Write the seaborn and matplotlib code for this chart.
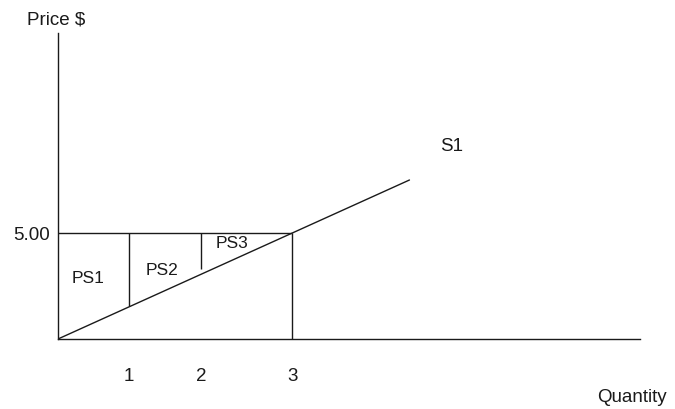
import matplotlib
matplotlib.use("Agg")
import matplotlib.pyplot as plt
import seaborn as sns
import pandas as pd

# Supply curve S1 (quantity, price)
supply_q = [0.0, 3.3, 4.95]
supply_p = [0.0, 5.0, 7.5]

# Quantity marks and their labels
quantity_pos = [1.0, 2.02, 3.3]
quantity_labels = ["1", "2", "3"]
# Where each vertical divider stops at the bottom (price)
divider_low = [1.55, 3.3, 0.0]

price_level = 5.00
price_label = "5.00"

# Producer surplus region labels
ps_labels = ["PS1", "PS2", "PS3"]
ps_q = [0.43, 1.46, 2.45]
ps_p = [2.87, 3.25, 4.5]

sns.set_theme(style="white")
plt.rcParams["font.family"] = ["Liberation Sans", "DejaVu Sans"]

fig = plt.figure(figsize=(6.75, 4.09), dpi=100)
ax = fig.add_axes([58 / 675, (409 - 339) / 409, (640 - 58) / 675, (339 - 33) / 409])
ax.set_xlim(0, (640 - 58) / 71)
ax.set_ylim(0, (339 - 33) / 21.2)

lw = 1.0
col = "#1a1a1a"
fs = 13.5
fs_ps = 12.5

df = pd.DataFrame({"q": supply_q, "p": supply_p})
sns.lineplot(data=df, x="q", y="p", ax=ax, color=col, linewidth=lw, legend=False)

# Price level line up to the third unit
ax.hlines(price_level, 0, quantity_pos[2], color=col, linewidth=lw)
# Dividers between the units
ax.vlines(quantity_pos, divider_low, [price_level] * 3, color=col, linewidth=lw)

for t, x, y in zip(ps_labels, ps_q, ps_p):
    ax.text(x, y, t, ha="center", va="center", fontsize=fs_ps, color=col)

ax.text(supply_q[-1] + 0.6, supply_p[-1] + 1.6, "S1", ha="center", va="center",
        fontsize=fs, color=col)

for sp in ["top", "right"]:
    ax.spines[sp].set_visible(False)
for sp in ["left", "bottom"]:
    ax.spines[sp].set_color(col)
    ax.spines[sp].set_linewidth(lw)

ax.set_xticks(quantity_pos)
ax.set_xticklabels(quantity_labels)
ax.set_yticks([price_level])
ax.set_yticklabels([price_label])
ax.tick_params(axis="x", length=0, pad=21, labelsize=fs, colors=col)
ax.tick_params(axis="y", length=0, pad=6, labelsize=fs, colors=col)
ax.set_xlabel("")
ax.set_ylabel("")

fig.text(56 / 675, 1 - 20 / 409, "Price $", ha="center", va="center", fontsize=fs, color=col)
fig.text(632 / 675, 1 - 398 / 409, "Quantity", ha="center", va="center", fontsize=fs, color=col)

fig.savefig("out.png", dpi=100, facecolor="white")
